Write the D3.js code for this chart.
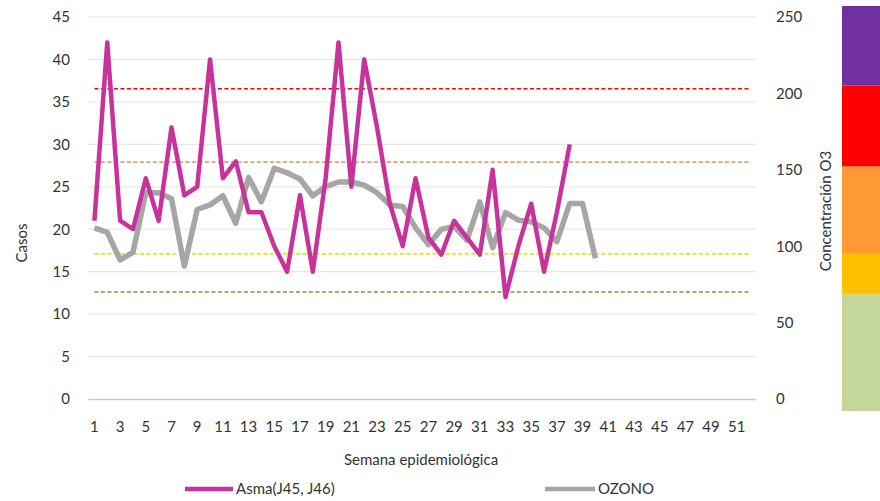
<!DOCTYPE html>
<html>
<head>
<meta charset="utf-8">
<script src="https://cdn.jsdelivr.net/npm/d3@7"></script>
<style>
	body { margin: 0; background: #fff; }
	text { font-family: Lato, "Open Sans", sans-serif; fill: #333; }
</style>
</head>
<body>
<svg id="chart" width="880" height="501"></svg>
<script>
// semanas epidemiologicas 1..52
var weeks = d3.range(1, 53);
var weekTicks = weeks.filter(function(d){ return d % 2 == 1; });

// casos de asma (J45, J46), semanas 1..38
var asma = [21, 42, 21, 20, 26, 21, 32, 24, 25, 40, 26, 28, 22, 22, 18, 15, 24, 15, 26, 42,
	25, 40, 32, 23, 18, 26, 19, 17, 21, 19, 17, 27, 12, 18, 23, 15, 22, 30];

// concentracion de ozono, semanas 1..40
var ozono = [112, 109, 91, 96, 135, 135, 131, 87, 124, 127, 133, 115, 145, 129, 151, 148, 144, 133, 139, 142,
	142, 140, 135, 127, 126, 112, 101, 111, 113, 104, 129, 99, 122, 117, 116, 112, 103, 128, 128, 92];

// limites (eje derecho)
var limites = [70, 95, 155, 203];
var limiteColors = ["#7d9545", "#e8e800", "#dba27a", "#ff0000"];

// barra de color lateral
var bandStops = [0, 72, 97, 151, 201, 250];
var bandColors = ["#c4d79b", "#ffc000", "#ff9933", "#ff0000", "#7030a0"];

var leftTicks = d3.range(0, 50, 5);
var rightTicks = d3.range(0, 300, 50);

(function(){
	var svg = d3.select("#chart");
	var margin = {left: 88, right: 756, top: 17, bottom: 399};

	var x = d3.scaleBand().domain(weeks).range([margin.left, margin.right]);
	var cx = function(w) { return x(w) + x.bandwidth() / 2; };
	var yL = d3.scaleLinear().domain([0, 45]).range([margin.bottom, margin.top]);
	var yR = d3.scaleLinear().domain([0, 250]).range([margin.bottom, margin.top]);
	var yBand = d3.scaleLinear().domain([0, 250]).range([411, 6]);

	// gridlines
	svg.append("g").selectAll("line").data(leftTicks.slice(1)).enter().append("line")
		.attr("x1", margin.left).attr("x2", margin.right)
		.attr("y1", function(d){ return yL(d); }).attr("y2", function(d){ return yL(d); })
		.style("stroke", "#e8e8e8").style("stroke-width", 1.2);

	// limit lines
	svg.append("g").selectAll("path").data(limites).enter().append("path")
		.attr("d", function(v){
			return d3.line()(weeks.map(function(w){ return [cx(w), yR(v)]; }));
		})
		.style("fill", "none")
		.style("stroke", function(d, i){ return limiteColors[i]; })
		.style("stroke-width", 1.6)
		.style("stroke-dasharray", "4,2.5");

	// axes
	var xAxis = svg.append("g").attr("transform", "translate(0," + margin.bottom + ")")
		.call(d3.axisBottom(x).tickValues(weekTicks).tickSize(0).tickSizeOuter(0).tickPadding(22));
	xAxis.select(".domain").style("stroke", "#c8c8c8").style("stroke-width", 1.5);

	var leftAxis = svg.append("g").attr("transform", "translate(" + margin.left + ",0)")
		.call(d3.axisLeft(yL).tickValues(leftTicks).tickSize(0).tickPadding(18));
	leftAxis.select(".domain").remove();

	var rightAxis = svg.append("g").attr("transform", "translate(" + margin.right + ",0)")
		.call(d3.axisRight(yR).tickValues(rightTicks).tickSize(0).tickPadding(20));
	rightAxis.select(".domain").remove();

	svg.selectAll(".tick text").style("font-size", "15px").style("font-family", "Lato, sans-serif").style("fill", "#333");

	// series
	var lineOzono = d3.line()
		.x(function(d, i){ return cx(weeks[i]); })
		.y(function(d){ return yR(d); });
	var lineAsma = d3.line()
		.x(function(d, i){ return cx(weeks[i]); })
		.y(function(d){ return yL(d); });

	svg.append("path").datum(ozono).attr("d", lineOzono)
		.style("fill", "none").style("stroke", "#a6a6a6").style("stroke-width", 5.5)
		.style("stroke-linejoin", "round");
	svg.append("path").datum(asma).attr("d", lineAsma)
		.style("fill", "none").style("stroke", "#c8339b").style("stroke-width", 4.5)
		.style("stroke-linejoin", "round");

	// color bar
	svg.append("g").selectAll("rect").data(bandColors).enter().append("rect")
		.attr("x", 842).attr("width", 38)
		.attr("y", function(d, i){ return yBand(bandStops[i + 1]); })
		.attr("height", function(d, i){ return yBand(bandStops[i]) - yBand(bandStops[i + 1]); })
		.style("fill", function(d){ return d; });

	// titles
	svg.append("text").attr("transform", "translate(27,243) rotate(-90)")
		.attr("text-anchor", "middle").style("font-size", "15px").text("Casos");
	svg.append("text").attr("transform", "translate(831,211) rotate(-90)")
		.attr("text-anchor", "middle").style("font-size", "15px").text("Concentración O3");
	svg.append("text").attr("x", 421).attr("y", 465)
		.attr("text-anchor", "middle").style("font-size", "15px").text("Semana epidemiológica");

	// legend
	var legend = svg.append("g");
	legend.append("line").attr("x1", 185).attr("x2", 233).attr("y1", 489).attr("y2", 489)
		.style("stroke", "#c8339b").style("stroke-width", 4.5);
	legend.append("text").attr("x", 236).attr("y", 494).style("font-size", "15px").text("Asma(J45, J46)");
	legend.append("line").attr("x1", 545).attr("x2", 595).attr("y1", 489).attr("y2", 489)
		.style("stroke", "#a6a6a6").style("stroke-width", 4.5);
	legend.append("text").attr("x", 598).attr("y", 494).style("font-size", "15px").text("OZONO");
})();
</script>
</body>
</html>
